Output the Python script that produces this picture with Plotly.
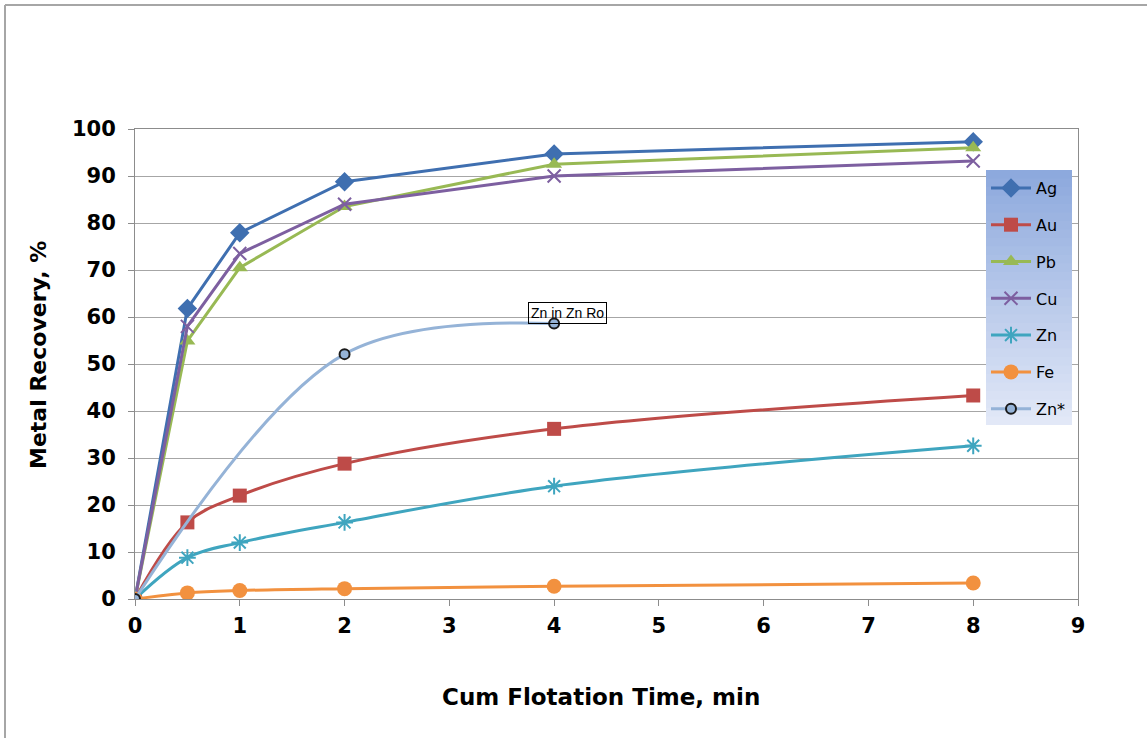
import plotly.graph_objects as go

time = [0, 0.5, 1, 2, 4, 8]
ag = [0, 61.8, 77.9, 88.8, 94.7, 97.3]
au = [0, 16.3, 22.0, 28.8, 36.2, 43.3]
pb = [0, 54.9, 70.5, 83.5, 92.5, 96.0]
cu = [0, 58.0, 73.5, 84.0, 90.0, 93.2]
zn = [0, 8.8, 12.0, 16.3, 24.0, 32.6]
fe = [0, 1.3, 1.8, 2.2, 2.7, 3.4]
zn_star_time = [0, 2, 4]
zn_star = [0, 52.1, 58.6]

x_ticks = list(range(0, 10))
y_ticks = list(range(0, 101, 10))

L, R, T, B = 135, 1078, 129, 599
W, H = 1147, 738
def px(x):
    return (x - L) / (R - L)
def py(y):
    return (B - y) / (B - T)

fig = go.Figure()

series = [
    ("Ag", time, ag, "#3F6FB0", "diamond", 15, "linear", None),
    ("Au", time, au, "#BE4B48", "square", 14, "spline", None),
    ("Pb", time, pb, "#98B954", "triangle-up", 14, "linear", None),
    ("Cu", time, cu, "#7D5FA0", "x-thin", 13, "linear", None),
    ("Zn", time, zn, "#3FA5BF", "asterisk", 14, "spline", None),
    ("Fe", time, fe, "#F2913F", "circle", 15, "spline", None),
    ("Zn*", zn_star_time, zn_star, "#95B3D7", "circle", 10, "spline", "#1a1a1a"),
]

for i, (name, xs, ys, col, sym, size, shape, outline) in enumerate(series):
    if sym in ("x-thin", "asterisk"):
        marker = dict(symbol=sym, size=size, color=col, line=dict(color=col, width=2))
    elif outline:
        marker = dict(symbol=sym, size=size, color="#95B3D7", line=dict(color=outline, width=2))
    else:
        marker = dict(symbol=sym, size=size, color=col, line=dict(width=0))
    fig.add_trace(go.Scatter(
        x=xs, y=ys, name=name, mode="lines+markers",
        line=dict(color=col, width=3, shape=shape, smoothing=1.0),
        marker=marker, legendgroup=name,
    ))

shapes = []
# legend gradient background
lx0, lx1, ly0, ly1 = 986, 1072, 170, 425
n = 30
top = (141, 169, 221)
bot = (226, 232, 247)
for k in range(n):
    t = k / (n - 1)
    c = tuple(int(round(top[j] + (bot[j] - top[j]) * t)) for j in range(3))
    y0 = ly0 + (ly1 - ly0) * k / n
    y1 = min(ly1, ly0 + (ly1 - ly0) * (k + 1) / n + 1.5)
    shapes.append(dict(type="rect", xref="paper", yref="paper",
                       x0=px(lx0), x1=px(lx1), y0=py(y0), y1=py(y1),
                       fillcolor="rgb(%d,%d,%d)" % c, line=dict(width=0), layer="above"))
# outer frame
shapes.append(dict(type="line", xref="paper", yref="paper", x0=px(5), x1=px(W), y0=py(5), y1=py(5),
                   line=dict(color="#A6A6A6", width=2)))
shapes.append(dict(type="line", xref="paper", yref="paper", x0=px(5), x1=px(5), y0=py(5), y1=py(H),
                   line=dict(color="#A6A6A6", width=2)))

fig.update_layout(
    width=W, height=H,
    margin=dict(l=L, r=W - R, t=T, b=H - B),
    paper_bgcolor="white", plot_bgcolor="white",
    font=dict(family="DejaVu Sans", color="black"),
    showlegend=True,
    legend=dict(x=px(lx0), y=py(ly0 + 1), xanchor="left", yanchor="top",
                bgcolor="rgba(0,0,0,0)", font=dict(size=16, family="DejaVu Sans"),
                tracegroupgap=13, itemwidth=40, traceorder="grouped"),
    shapes=shapes,
    xaxis=dict(range=[0, 9], tickvals=x_ticks, ticktext=[str(v) for v in x_ticks],
               showgrid=False, zeroline=False, showline=True, linecolor="#8C8C8C", linewidth=1,
               mirror=True, ticks="outside", ticklen=6, tickcolor="#8C8C8C",
               ticklabelstandoff=2,
               tickfont=dict(size=21, family="DejaVu Sans", weight="bold")),
    yaxis=dict(range=[0, 100], tickvals=y_ticks, ticktext=[str(v) for v in y_ticks],
               showgrid=True, gridcolor="#A6A6A6", gridwidth=1, zeroline=False,
               showline=True, linecolor="#8C8C8C", linewidth=1, mirror=True,
               ticks="outside", ticklen=6, tickcolor="#8C8C8C",
               ticklabelstandoff=8,
               tickfont=dict(size=21, family="DejaVu Sans", weight="bold")),
    annotations=[
        dict(x=4, y=58.6, xref="x", yref="y", text="Zn in Zn Ro", showarrow=False,
             xanchor="center", yanchor="bottom", xshift=13, yshift=0,
             font=dict(size=14, family="Liberation Sans", color="black"),
             bordercolor="black", borderwidth=1, borderpad=2, bgcolor="rgba(255,255,255,0)"),
        dict(x=px(601), y=py(697), xref="paper", yref="paper", text="<b>Cum Flotation Time, min</b>",
             showarrow=False, xanchor="center", yanchor="middle", font=dict(size=23, family="DejaVu Sans")),
        dict(x=px(38), y=py(355), xref="paper", yref="paper", text="<b>Metal Recovery, %</b>",
             showarrow=False, xanchor="center", yanchor="middle", textangle=-90,
             font=dict(size=22, family="DejaVu Sans")),
    ],
)

fig.write_html("out.html", config={"displayModeBar": False},
               post_script="document.body.style.margin='0';document.body.style.overflow='hidden';")
